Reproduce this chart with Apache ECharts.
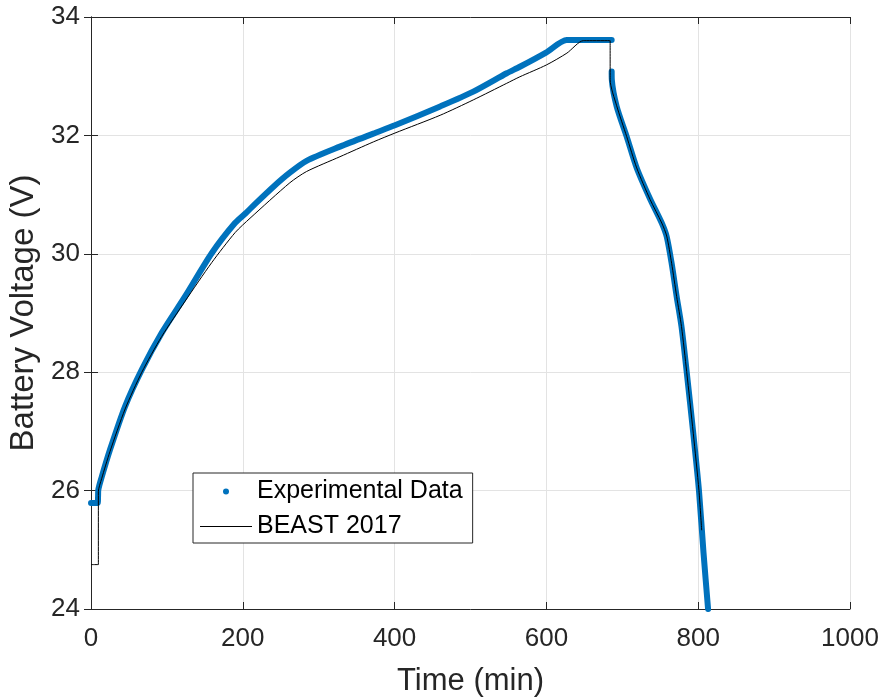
<!DOCTYPE html>
<html>
<head>
<meta charset="utf-8">
<script src="https://cdn.jsdelivr.net/npm/echarts@6/dist/echarts.min.js"></script>
<style>
html,body{margin:0;padding:0;background:#fff;}
#chart{width:882px;height:698px;}
</style>
</head>
<body>
<div id="chart"></div>
<script>
// Experimental data (time in min, voltage in V)
const expTime = [0, 8.7, 9.3, 9.6, 14.1, 25, 44.8, 66.8, 93, 124, 159, 189.7, 205, 216, 240, 262, 284, 328, 372, 400.5, 460, 503.7, 547.7, 565, 599.5, 626.7, 632, 686, 686, 686, 686.2, 692.6, 705.8, 719, 736.5, 752, 758.5, 765, 771.6, 778, 784.8, 793.5, 801, 807, 813];
const expVolt = [25.79, 25.79, 25.9, 26.01, 26.23, 26.69, 27.42, 28.04, 28.66, 29.28, 30.01, 30.52, 30.70, 30.84, 31.13, 31.37, 31.57, 31.81, 32.03, 32.17, 32.49, 32.74, 33.05, 33.16, 33.40, 33.61, 33.61, 33.61, null, 33.08, 32.94, 32.49, 31.98, 31.45, 30.93, 30.52, 30.29, 29.84, 29.28, 28.77, 28.01, 26.97, 26.0, 24.95, 24.0];

// BEAST 2017 simulation
const simTime = [0, 9.7, 9.7, 14, 25, 45, 67, 93, 124, 159, 190, 209.5, 262, 284, 328, 372, 400.5, 460, 503.7, 547.7, 565, 600, 627, 648.6, 653, 684, 684, 692.6, 705.8, 719, 736.5, 752, 758.5, 765, 771.6, 778, 784.8, 793.5, 801, 804.6];
const simVolt = [24.75, 24.75, 25.98, 26.2, 26.66, 27.38, 28.0, 28.6, 29.2, 29.85, 30.36, 30.6, 31.2, 31.39, 31.64, 31.89, 32.04, 32.34, 32.6, 32.88, 32.99, 33.19, 33.39, 33.6, 33.6, 33.6, 32.94, 32.5, 31.98, 31.45, 30.92, 30.52, 30.3, 29.84, 29.28, 28.77, 28.01, 26.97, 26.0, 25.33];

const xTicks = {min: 0, max: 1000, interval: 200};
const yTicks = {min: 24, max: 34, interval: 2};

const seriesNames = ['Experimental Data', 'BEAST 2017'];

const expData = expTime.map((t, i) => [t, expVolt[i]]);
const simData = simTime.map((t, i) => [t, simVolt[i]]);

const FONT = "'Liberation Sans', Arial, Helvetica, sans-serif";
const TXT = '#262626';
const AX = '#262626';

const chart = echarts.init(document.getElementById('chart'), null, {renderer: 'canvas'});

const baseAxisLine = {show: true, lineStyle: {color: AX, width: 1}};
const tick = {show: true, inside: true, length: 7, lineStyle: {color: AX, width: 1}};
const plain = v => String(v);

chart.setOption({
  backgroundColor: '#ffffff',
  animation: false,
  grid: {left: 91, top: 17, width: 759, height: 592, containLabel: false, outerBoundsMode: 'none'},
  legend: {
    orient: 'vertical',
    left: 193,
    top: 473,
    itemWidth: 52,
    itemHeight: 6,
    itemGap: 10,
    padding: [6, 10, 4, 7],
    borderColor: '#262626',
    borderWidth: 1,
    backgroundColor: '#ffffff',
    selectedMode: false,
    textStyle: {fontFamily: FONT, fontSize: 25, color: '#000'},
    data: [
      {name: seriesNames[0], icon: 'circle'},
      {name: seriesNames[1], icon: 'path://M0,0H52V1H0Z'}
    ]
  },
  xAxis: [{
    type: 'value',
    min: xTicks.min, max: xTicks.max, interval: xTicks.interval,
    name: 'Time (min)',
    nameLocation: 'middle',
    nameGap: 57,
    nameTextStyle: {fontFamily: FONT, fontSize: 31, color: TXT},
    axisLine: baseAxisLine,
    axisTick: tick,
    axisLabel: {fontFamily: FONT, fontSize: 26, color: TXT, margin: 17, formatter: plain},
    splitLine: {show: true, lineStyle: {color: '#e3e3e3', width: 1}}
  }, {
    type: 'value', position: 'top',
    min: xTicks.min, max: xTicks.max, interval: xTicks.interval,
    axisLine: baseAxisLine, axisTick: tick,
    axisLabel: {show: false}, splitLine: {show: false}
  }],
  yAxis: [{
    type: 'value',
    min: yTicks.min, max: yTicks.max, interval: yTicks.interval,
    name: 'Battery Voltage (V)',
    nameLocation: 'middle',
    nameGap: 46,
    nameTextStyle: {fontFamily: FONT, fontSize: 33, color: TXT},
    axisLine: baseAxisLine,
    axisTick: tick,
    axisLabel: {fontFamily: FONT, fontSize: 26, color: TXT, margin: 11, formatter: plain},
    splitLine: {show: true, lineStyle: {color: '#e3e3e3', width: 1}}
  }, {
    type: 'value', position: 'right',
    min: yTicks.min, max: yTicks.max, interval: yTicks.interval,
    axisLine: baseAxisLine, axisTick: tick,
    axisLabel: {show: false}, splitLine: {show: false}
  }],
  series: [{
    name: seriesNames[0],
    type: 'line',
    data: expData,
    showSymbol: false,
    symbol: 'circle',
    connectNulls: false,
    smooth: 0.25,
    itemStyle: {color: '#0072BD'},
    lineStyle: {color: '#0072BD', width: 6, cap: 'round', join: 'round'},
    z: 2
  }, {
    name: seriesNames[1],
    type: 'line',
    data: simData,
    showSymbol: false,
    symbol: 'none',
    smooth: 0.25,
    itemStyle: {color: '#000000'},
    lineStyle: {color: '#000000', width: 1},
    z: 3
  }]
});
</script>
</body>
</html>
